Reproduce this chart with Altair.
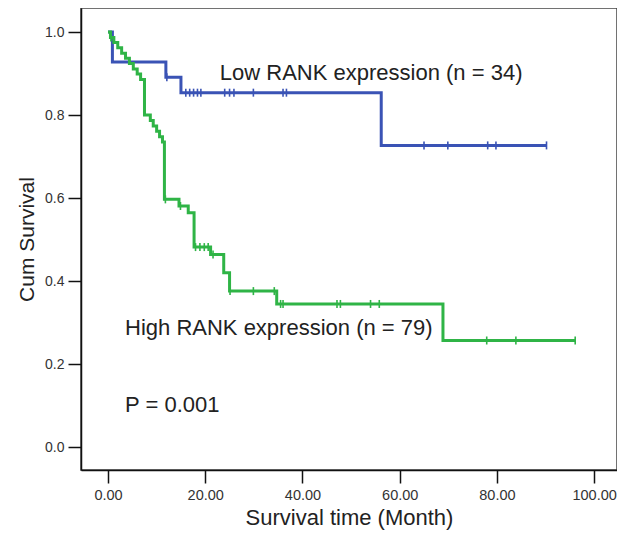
import altair as alt
import pandas as pd

# ---- data ----
low_t = [0.0, 0.9, 11.9, 15.0, 56.2, 90.2]
low_s = [1.0, 0.928, 0.891, 0.854, 0.727, 0.727]
low_censor = [12.1, 16.0, 16.8, 17.6, 18.4, 19.1, 24.0, 25.0, 25.9, 29.9,
              36.0, 36.7, 65.0, 69.9, 78.1, 79.8, 90.2]

high_t = [0.0, 0.5, 1.2, 2.0, 2.8, 3.6, 4.4, 5.2, 6.0, 6.7, 7.5, 8.7, 9.3,
          10.0, 10.6, 11.2, 11.6, 14.6, 16.5, 17.7, 21.1, 23.8, 25.0, 34.7,
          68.9, 96.1]
high_s = [1.0, 0.987, 0.975, 0.962, 0.949, 0.937, 0.924, 0.911, 0.899, 0.886,
          0.80, 0.787, 0.774, 0.761, 0.748, 0.735, 0.597, 0.581, 0.565, 0.482,
          0.464, 0.42, 0.376, 0.345, 0.257, 0.257]
high_censor = [0.6, 11.8, 14.9, 18.0, 18.9, 19.8, 20.6, 21.6, 25.1, 29.9, 34.2,
               35.5, 36.0, 47.1, 47.8, 54.0, 55.8, 77.9, 83.9, 96.1]

groups = ["Low", "High"]
colors = ["#3a53b5", "#2fb446"]

x_ticks = [0, 20, 40, 60, 80, 100]
y_ticks = [0.0, 0.2, 0.4, 0.6, 0.8, 1.0]

labels = ["Low RANK expression (n = 34)", "High RANK expression (n = 79)", "P = 0.001"]
label_t = [23.0, 3.5, 3.5]
label_s = [0.901, 0.287, 0.101]


def surv_at(ts, ss, t):
    v = ss[0]
    for ti, si in zip(ts, ss):
        if ti <= t:
            v = si
    return v


rows = []
for t, s in zip(low_t, low_s):
    rows.append({"group": "Low", "t": t, "s": s})
for t, s in zip(high_t, high_s):
    rows.append({"group": "High", "t": t, "s": s})
curves = pd.DataFrame(rows)

crows = []
for t in low_censor:
    crows.append({"group": "Low", "t": t, "s": surv_at(low_t, low_s, t)})
for t in high_censor:
    crows.append({"group": "High", "t": t, "s": surv_at(high_t, high_s, t)})
censors = pd.DataFrame(crows)

texts = pd.DataFrame({"label": labels, "t": label_t, "s": label_s})

xscale = alt.Scale(domain=[-5.56, 104.7], nice=False, zero=False)
yscale = alt.Scale(domain=[-0.055, 1.058], nice=False, zero=False)
color = alt.Color("group:N", scale=alt.Scale(domain=groups, range=colors), legend=None)

x_axis = alt.Axis(values=x_ticks, format=".2f", title="Survival time (Month)",
                  grid=False, tickSize=13, tickWidth=1.5, tickColor="#111",
                  domainColor="#111", domainWidth=1.5, labelFontSize=14.5,
                  labelColor="#333", labelPadding=5, labelFont="Liberation Sans",
                  titleFont="Liberation Sans", titleFontSize=22,
                  titleFontWeight="normal", titleColor="#222", titlePadding=6)
y_axis = alt.Axis(values=y_ticks, format=".1f", title="Cum Survival",
                  grid=False, tickSize=13, tickWidth=1.5, tickColor="#111",
                  domainColor="#111", domainWidth=1.5, labelFontSize=14,
                  labelColor="#333", labelPadding=4, labelFont="Liberation Sans",
                  titleFont="Liberation Sans", titleFontSize=21,
                  titleFontWeight="normal", titleColor="#222", titlePadding=7)

lines = alt.Chart(curves).mark_line(interpolate="step-after", strokeWidth=3).encode(
    x=alt.X("t:Q", scale=xscale, axis=x_axis),
    y=alt.Y("s:Q", scale=yscale, axis=y_axis),
    color=color,
    detail="group:N",
)

ticks = alt.Chart(censors).mark_point(shape="M0,-1L0,1", size=64, strokeWidth=1.6,
                                      filled=False, opacity=1).encode(
    x=alt.X("t:Q", scale=xscale),
    y=alt.Y("s:Q", scale=yscale),
    color=color,
)

ann = alt.Chart(texts).mark_text(align="left", baseline="middle", fontSize=22,
                                 font="Liberation Sans", color="#222").encode(
    x=alt.X("t:Q", scale=xscale),
    y=alt.Y("s:Q", scale=yscale),
    text="label:N",
)

chart = alt.layer(lines, ticks, ann).properties(
    width=536, height=462,
    autosize=alt.AutoSizeParams(type="none"),
    padding={"left": 73, "top": 0, "right": 0, "bottom": 60},
).configure_view(stroke="#444", strokeWidth=1.5)

chart.save("out.html", embed_options={"renderer": "svg", "actions": False})
